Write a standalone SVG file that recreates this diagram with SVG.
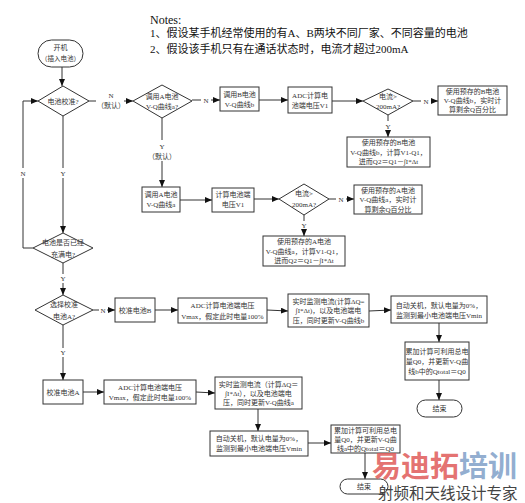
<svg xmlns="http://www.w3.org/2000/svg" width="525" height="503" viewBox="0 0 525 503">
<style>
.n{fill:#fff;stroke:#333;stroke-width:1}
.t{font-family:"Liberation Serif","Noto Sans CJK SC",serif;font-size:7px;fill:#333;text-anchor:middle}
.l{font-family:"Liberation Serif","Noto Sans CJK SC",serif;font-size:7px;fill:#333;text-anchor:middle}
.note{font-family:"Liberation Serif","Noto Sans CJK SC",serif;font-size:11px;fill:#111}
.c{fill:none;stroke:#333;stroke-width:1}
.a{marker-end:url(#ah)}
</style>
<defs>
<marker id="ah" markerUnits="userSpaceOnUse" markerWidth="7" markerHeight="6" refX="7" refY="3" orient="auto"><path d="M0,0 L7,3 L0,6 z" fill="#111"/></marker>
</defs>
<rect width="525" height="503" fill="#fff"/>
<g id="notes">
<text class="note" x="150" y="24" style="font-size:12px">Notes:</text>
<text class="note" x="150" y="37">1、假设某手机经常使用的有A、B两块不同厂家、不同容量的电池</text>
<text class="note" x="150" y="53">2、假设该手机只有在通话状态时，电流才超过200mA</text>
</g>
<g id="connectors">
<line class="c a" x1="62" y1="67" x2="62" y2="86"/>
<line class="c" x1="89" y1="101" x2="96" y2="101"/>
<line class="c a" x1="124" y1="101" x2="133" y2="101"/>
<text class="l" x="111" y="98">N</text>
<text class="l" x="111" y="108">（默认）</text>
<line class="c" x1="192" y1="100" x2="201" y2="100"/>
<line class="c a" x1="211" y1="100" x2="220" y2="100"/>
<text class="l" x="206" y="102.5">N</text>
<line class="c a" x1="259" y1="100" x2="288" y2="100"/>
<line class="c a" x1="332" y1="101" x2="363" y2="101"/>
<line class="c" x1="413" y1="101" x2="421" y2="101"/>
<line class="c a" x1="431" y1="101" x2="438" y2="101"/>
<text class="l" x="426" y="103.5">N</text>
<line class="c" x1="388" y1="115" x2="388" y2="121"/>
<line class="c a" x1="388" y1="130" x2="388" y2="137"/>
<text class="l" x="388" y="128.5">Y</text>
<line class="c" x1="162" y1="118" x2="162" y2="140"/>
<line class="c a" x1="162" y1="161" x2="162" y2="187"/>
<text class="l" x="162" y="148.5">Y</text>
<text class="l" x="162" y="159">（默认）</text>
<line class="c a" x1="180" y1="200" x2="212" y2="200"/>
<line class="c a" x1="254" y1="199" x2="279" y2="199"/>
<line class="c" x1="329" y1="199" x2="336" y2="199"/>
<line class="c a" x1="346" y1="199" x2="354" y2="199"/>
<text class="l" x="341" y="201.5">N</text>
<line class="c" x1="304" y1="215" x2="304" y2="221"/>
<line class="c a" x1="304" y1="230" x2="304" y2="236"/>
<text class="l" x="304" y="228">Y</text>
<line class="c" x1="63" y1="116" x2="63" y2="168"/>
<line class="c a" x1="63" y1="178" x2="63" y2="233"/>
<text class="l" x="63" y="175.5">Y</text>
<polyline class="c" points="33,248 23,248 23,178"/>
<polyline class="c a" points="23,168 23,101 38,101"/>
<text class="l" x="23" y="175.5">N</text>
<line class="c" x1="63" y1="263" x2="63" y2="274"/>
<line class="c a" x1="63" y1="283" x2="63" y2="295"/>
<text class="l" x="63" y="280.5">Y</text>
<line class="c" x1="93" y1="310" x2="99" y2="310"/>
<line class="c a" x1="107" y1="310" x2="115" y2="310"/>
<text class="l" x="103" y="312.5">N</text>
<line class="c a" x1="155" y1="310" x2="178" y2="310"/>
<line class="c a" x1="267" y1="310" x2="288" y2="311"/>
<line class="c a" x1="369" y1="311" x2="391" y2="310"/>
<line class="c a" x1="439" y1="323" x2="439" y2="342"/>
<line class="c a" x1="439" y1="380" x2="439" y2="400"/>
<line class="c" x1="63" y1="325" x2="63" y2="348"/>
<line class="c a" x1="63" y1="357" x2="63" y2="380"/>
<text class="l" x="63" y="354.5">Y</text>
<line class="c a" x1="83" y1="392" x2="104" y2="392"/>
<line class="c a" x1="196" y1="392" x2="215" y2="393"/>
<line class="c a" x1="258" y1="409" x2="258" y2="431"/>
<line class="c a" x1="308" y1="443" x2="331" y2="443"/>
<line class="c a" x1="365" y1="453" x2="365" y2="479"/>
</g>
<g id="start">
<rect class="n" x="38" y="40" width="45" height="27" rx="13.5"/>
<text class="t" x="60.5" y="49.5">开机</text>
<text class="t" x="60.5" y="60.5" style="font-size:6.5px">（插入电池）</text>
</g>
<g id="d1">
<polygon class="n" points="38,101 63,86 89,101 63,116"/>
<text class="t" x="63" y="103.5">电池校准?</text>
</g>
<g id="d2">
<polygon class="n" points="133,101 162,85 192,101 162,118"/>
<text class="t" x="162" y="98.5">调用A电池</text>
<text class="t" x="162" y="108.5">V-Q曲线a?</text>
</g>
<g id="boxB">
<rect class="n" x="220" y="87" width="39" height="24"/>
<text class="t" x="239.5" y="97">调用B电池</text>
<text class="t" x="239.5" y="106.5">V-Q曲线b</text>
</g>
<g id="adc1">
<rect class="n" x="288" y="87" width="44" height="26"/>
<text class="t" x="310" y="97.5">ADC计算电</text>
<text class="t" x="310" y="107.5">池端电压V1</text>
</g>
<g id="d3">
<polygon class="n" points="363,101 388,89 413,101 388,115"/>
<text class="t" x="388" y="98.5">电流&gt;</text>
<text class="t" x="388" y="109">200mA?</text>
</g>
<g id="bBreal">
<rect class="n" x="438" y="86" width="69" height="29"/>
<text class="t" x="472.5" y="93.5">使用预存的B电池</text>
<text class="t" x="472.5" y="102.5">V-Q曲线b，实时计</text>
<text class="t" x="472.5" y="111.5">算剩余Q百分比</text>
</g>
<g id="bBcalc">
<rect class="n" x="347" y="137" width="83" height="30"/>
<text class="t" x="388.5" y="145">使用预存的B电池</text>
<text class="t" x="388.5" y="154.5">V-Q曲线b，计算V1-Q1，</text>
<text class="t" x="388.5" y="164">进而Q2＝Q1－∫I*Δt</text>
</g>
<g id="boxA">
<rect class="n" x="142" y="187" width="38" height="25"/>
<text class="t" x="161" y="197">调用A电池</text>
<text class="t" x="161" y="207">V-Q曲线a</text>
</g>
<g id="calcV1">
<rect class="n" x="212" y="188" width="42" height="24"/>
<text class="t" x="233" y="196.5">计算电池端</text>
<text class="t" x="233" y="206.5">电压V1</text>
</g>
<g id="d4">
<polygon class="n" points="279,199 304,184 329,199 304,215"/>
<text class="t" x="304" y="195.5">电流&gt;</text>
<text class="t" x="304" y="206.5">200mA?</text>
</g>
<g id="bAreal">
<rect class="n" x="354" y="185" width="68" height="29"/>
<text class="t" x="388" y="192.5">使用预存的A电池</text>
<text class="t" x="388" y="202">V-Q曲线a，实时计</text>
<text class="t" x="388" y="211.5">算剩余Q百分比</text>
</g>
<g id="bAcalc">
<rect class="n" x="263" y="236" width="82" height="30"/>
<text class="t" x="304" y="244">使用预存的A电池</text>
<text class="t" x="304" y="253.5">V-Q曲线a，计算V1-Q1，</text>
<text class="t" x="304" y="263">进而Q2＝Q1－∫I*Δt</text>
</g>
<g id="d5">
<polygon class="n" points="33,248 63,233 93,248 63,263"/>
<text class="t" x="63" y="244.5">电池是否已经</text>
<text class="t" x="63" y="256.5">充满电?</text>
</g>
<g id="d6">
<polygon class="n" points="35,310 63,295 93,310 63,325"/>
<text class="t" x="64" y="306.5">选择校准</text>
<text class="t" x="64" y="318.5">电池A?</text>
</g>
<g id="calB">
<rect class="n" x="115" y="298" width="40" height="24"/>
<text class="t" x="135" y="312.5">校准电池B</text>
</g>
<g id="adcB">
<rect class="n" x="178" y="298" width="89" height="25"/>
<text class="t" x="222.5" y="307.5">ADC计算电池端电压</text>
<text class="t" x="222.5" y="318.5">Vmax，假定此时电量100%</text>
</g>
<g id="monB">
<rect class="n" x="288" y="294" width="81" height="33"/>
<text class="t" x="328.5" y="303.5">实时监测电流(计算ΔQ=</text>
<text class="t" x="328.5" y="313">∫I*Δt)，以及电池端电</text>
<text class="t" x="328.5" y="322.5">压，同时更新V-Q曲线b</text>
</g>
<g id="offB">
<rect class="n" x="391" y="296" width="96" height="27"/>
<text class="t" x="439" y="307.5">自动关机，默认电量为0%，</text>
<text class="t" x="439" y="318">监测到最小电池端电压Vmin</text>
</g>
<g id="sumB">
<rect class="n" x="405" y="342" width="64" height="38"/>
<text class="t" x="437" y="353.5">累加计算可利用总电</text>
<text class="t" x="437" y="363.5">量Q0，并更新V-Q曲</text>
<text class="t" x="437" y="373.5">线b中的Qtotal＝Q0</text>
</g>
<g id="endB">
<rect class="n" x="417" y="400" width="45" height="17" rx="8.5"/>
<text class="t" x="439.5" y="411">结束</text>
</g>
<g id="calA">
<rect class="n" x="43" y="380" width="40" height="24"/>
<text class="t" x="63" y="394.5">校准电池A</text>
</g>
<g id="adcA">
<rect class="n" x="104" y="380" width="92" height="24"/>
<text class="t" x="150" y="389.5">ADC计算电池端电压</text>
<text class="t" x="150" y="399.5">Vmax，假定此时电量100%</text>
</g>
<g id="monA">
<rect class="n" x="215" y="377" width="87" height="32"/>
<text class="t" x="258.5" y="386.5">实时监测电流（计算ΔQ＝</text>
<text class="t" x="258.5" y="395.5">∫I*Δt），以及电池端电</text>
<text class="t" x="258.5" y="404.5">压，同时更新V-Q曲线a</text>
</g>
<g id="offA">
<rect class="n" x="210" y="431" width="98" height="25"/>
<text class="t" x="259" y="441">自动关机，默认电量为0%，</text>
<text class="t" x="259" y="451">监测到最小电池端电压Vmin</text>
</g>
<g id="sumA">
<rect class="n" x="331" y="425" width="69" height="28"/>
<text class="t" x="365.5" y="433">累加计算可利用总电</text>
<text class="t" x="365.5" y="442">量Q0，并更新V-Q曲</text>
<text class="t" x="365.5" y="451">线a中的Qtotal＝Q0</text>
</g>
<g id="endA">
<rect class="n" x="340" y="479" width="48" height="15" rx="7.5"/>
<text class="t" x="364" y="489">结束</text>
</g>
<g id="watermark" style="font-family:'Noto Sans CJK SC',sans-serif;font-weight:bold">
<text x="372" y="477" style="font-size:29px"><tspan fill="#e05a58" fill-opacity="0.85">易迪拓</tspan><tspan fill="#7f9fc8" fill-opacity="0.85">培训</tspan></text>
<text x="378" y="499" style="font-size:15.5px;font-weight:normal" fill="#444">射频和天线设计专家</text>
</g>
</svg>
